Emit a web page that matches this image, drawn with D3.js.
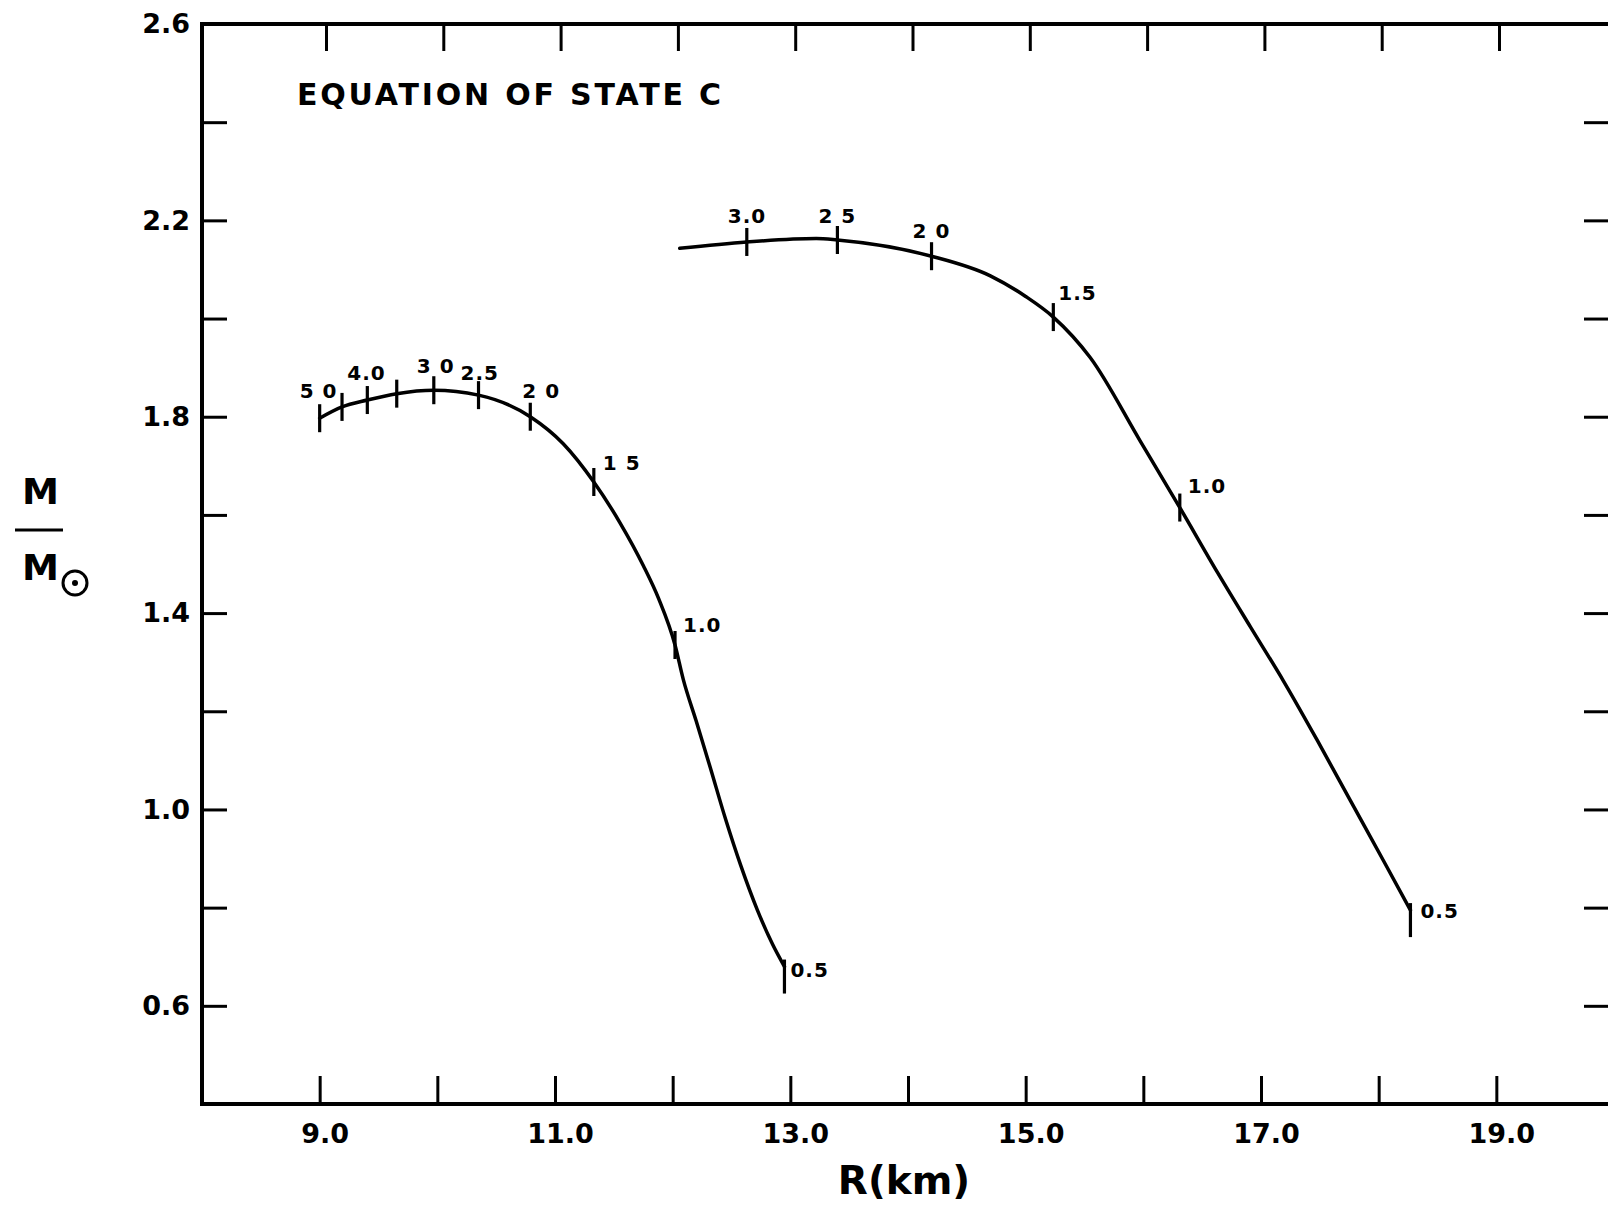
<!DOCTYPE html>
<html>
<head>
<meta charset="utf-8">
<script src="https://cdn.jsdelivr.net/npm/d3@7"></script>
<style>
  html, body { margin: 0; padding: 0; background: #fff; }
  svg { display: block; }
</style>
</head>
<body>
<svg id="chart" width="1608" height="1226"></svg>
<script>
// ---------------- DATA ----------------
const title = "EQUATION OF STATE C";
const xTitle = "R(km)";

const xTicks = [9, 10, 11, 12, 13, 14, 15, 16, 17, 18, 19];
const xTickLabels = ["9.0", "", "11.0", "", "13.0", "", "15.0", "", "17.0", "", "19.0"];
const yTicks = [0.6, 0.8, 1.0, 1.2, 1.4, 1.6, 1.8, 2.0, 2.2, 2.4, 2.6];
const yTickLabels = ["0.6", "", "1.0", "", "1.4", "", "1.8", "", "2.2", "", "2.6"];

// Left curve (mass-radius relation)
const leftR = [9.00, 9.19, 9.405, 9.655, 9.97, 10.35, 10.79, 11.07, 11.33, 11.55, 11.75, 11.88, 12.02, 12.09, 12.20, 12.32, 12.45, 12.58, 12.72, 12.85, 12.95];
const leftM = [1.797, 1.820, 1.834, 1.847, 1.854, 1.844, 1.800, 1.745, 1.667, 1.585, 1.497, 1.430, 1.335, 1.265, 1.180, 1.085, 0.980, 0.885, 0.795, 0.725, 0.680];

// Right curve
const rightR = [12.06, 12.63, 13.22, 13.40, 14.20, 14.70, 15.00, 15.235, 15.55, 15.97, 16.31, 16.63, 16.91, 17.19, 17.48, 17.76, 18.04, 18.27];
const rightM = [2.143, 2.156, 2.163, 2.160, 2.127, 2.087, 2.045, 2.003, 1.920, 1.752, 1.615, 1.483, 1.372, 1.262, 1.140, 1.018, 0.896, 0.795];

// Central-density markers on curves
const leftMarkR = [9.00, 9.19, 9.405, 9.655, 9.97, 10.35, 10.79, 11.33, 12.02, 12.95];
const leftMarkM = [1.797, 1.820, 1.834, 1.847, 1.854, 1.844, 1.800, 1.667, 1.335, 0.680];
const leftMarkLabels = ["5 0", "", "4.0", "", "3 0", "2.5", "2 0", "1 5", "1.0", "0.5"];

const rightMarkR = [12.63, 13.40, 14.20, 15.235, 16.31, 18.27];
const rightMarkM = [2.156, 2.160, 2.127, 2.003, 1.615, 0.795];
const rightMarkLabels = ["3.0", "2 5", "2 0", "1.5", "1.0", "0.5"];

// ---------------- LAYOUT / STYLE ----------------
const leftLabelOffsets = [[-20,-20],[0,0],[-20,-20],[0,0],[-17,-17],[-18,-15],[-8,-19],[9,-12],[8,-13],[6,10]];
const rightLabelOffsets = [[-19,-19],[-19,-17],[-19,-18],[5,-17],[8,-15],[10,8]];

const svg = d3.select("#chart");
const x = d3.scaleLinear().domain([8, 20]).range([202, 1614]);
const xTop = d3.scaleLinear().domain([9, 19]).range([326, 1499]);
const y = d3.scaleLinear().domain([0.4, 2.6]).range([1104, 24]);
const INK = "#000";
const numFont = "'DejaVu Sans', sans-serif";

svg.append("rect").attr("width", 1608).attr("height", 1226).attr("fill", "#fff");

// Axes (ticks pointing inwards)
function styleAxis(g) {
  g.select(".domain").remove();
  g.selectAll(".tick line").attr("stroke", INK).attr("stroke-width", 3);
  g.selectAll(".tick text").attr("fill", INK);
  g.attr("font-family", numFont).attr("font-size", 27).attr("font-weight", "bold");
}

svg.append("g").attr("transform", `translate(0,${y(0.4)})`)
  .call(d3.axisBottom(x).tickValues(xTicks).tickSize(-28).tickPadding(20)
    .tickFormat((d, i) => xTickLabels[i]))
  .call(styleAxis)
  .call(g => g.selectAll(".tick text").attr("dx", 5));

svg.append("g").attr("transform", `translate(0,${y(2.6)})`)
  .call(d3.axisTop(xTop).tickValues(xTicks).tickSize(-27).tickFormat(""))
  .call(styleAxis);

svg.append("g").attr("transform", `translate(${x(8)},0)`)
  .call(d3.axisLeft(y).tickValues(yTicks).tickSize(-25).tickPadding(12)
    .tickFormat((d, i) => yTickLabels[i]))
  .call(styleAxis);

svg.append("g").attr("transform", `translate(${x(20)},0)`)
  .call(d3.axisRight(y).tickValues(yTicks).tickSize(-30).tickFormat(""))
  .call(styleAxis);

// Frame
svg.append("rect")
  .attr("x", x(8)).attr("y", y(2.6))
  .attr("width", x(20) - x(8)).attr("height", y(0.4) - y(2.6))
  .attr("fill", "none").attr("stroke", INK).attr("stroke-width", 4);

// Curves
const line = d3.line().x(d => x(d[0])).y(d => y(d[1])).curve(d3.curveMonotoneX);
const leftPts = leftR.map((r, i) => [r, leftM[i]]);
const rightPts = rightR.map((r, i) => [r, rightM[i]]);
[leftPts, rightPts].forEach(pts => {
  svg.append("path").attr("d", line(pts))
    .attr("fill", "none").attr("stroke", INK).attr("stroke-width", 3.5)
    .attr("stroke-linejoin", "round").attr("stroke-linecap", "round");
});

// Density markers + labels
function drawMarks(Rs, Ms, labels, offsets) {
  const g = svg.append("g");
  Rs.forEach((r, i) => {
    const px = x(r), py = y(Ms[i]);
    const isEnd = i === Rs.length - 1;
    g.append("line")
      .attr("x1", px).attr("x2", px)
      .attr("y1", py + (isEnd ? -7 : -14)).attr("y2", py + (isEnd ? 27 : 14))
      .attr("stroke", INK).attr("stroke-width", 3.2);
    if (labels[i]) {
      g.append("text")
        .attr("x", px + offsets[i][0]).attr("y", py + offsets[i][1])
        .attr("font-family", numFont).attr("font-weight", "bold")
        .attr("font-size", 20).attr("letter-spacing", 1)
        .attr("fill", INK).text(labels[i]);
    }
  });
}
drawMarks(leftMarkR, leftMarkM, leftMarkLabels, leftLabelOffsets);
drawMarks(rightMarkR, rightMarkM, rightMarkLabels, rightLabelOffsets);

// Title inside plot
svg.append("text")
  .attr("x", 297).attr("y", 105)
  .attr("font-family", numFont).attr("font-weight", "bold").attr("font-size", 30)
  .attr("textLength", 424).attr("lengthAdjust", "spacing")
  .attr("fill", INK).text(title);

// X axis title
svg.append("text")
  .attr("x", 904).attr("y", 1194).attr("text-anchor", "middle")
  .attr("font-family", numFont).attr("font-weight", "bold").attr("font-size", 39)
  .attr("fill", INK).text(xTitle);

// Y axis title: M / M_sun
const yt = svg.append("g");
yt.append("text").attr("x", 22).attr("y", 504)
  .attr("font-family", numFont).attr("font-weight", "bold").attr("font-size", 36)
  .attr("textLength", 37).attr("lengthAdjust", "spacingAndGlyphs")
  .attr("fill", INK).text("M");
yt.append("line").attr("x1", 15).attr("x2", 63).attr("y1", 530).attr("y2", 530)
  .attr("stroke", INK).attr("stroke-width", 3);
yt.append("text").attr("x", 22).attr("y", 580)
  .attr("font-family", numFont).attr("font-weight", "bold").attr("font-size", 36)
  .attr("textLength", 37).attr("lengthAdjust", "spacingAndGlyphs")
  .attr("fill", INK).text("M");
yt.append("circle").attr("cx", 75).attr("cy", 583).attr("r", 12)
  .attr("fill", "none").attr("stroke", INK).attr("stroke-width", 3);
yt.append("circle").attr("cx", 75).attr("cy", 583).attr("r", 3).attr("fill", INK);
</script>
</body>
</html>
